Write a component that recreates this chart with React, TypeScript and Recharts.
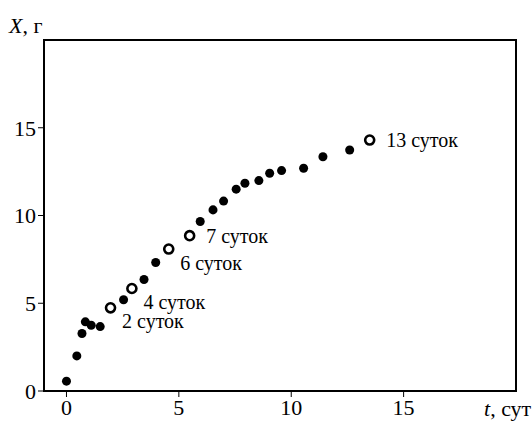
import React from "react";
import {
  ScatterChart,
  Scatter,
  XAxis,
  YAxis,
  ZAxis,
  LabelList,
} from "recharts";

// filled points: t (days), X (g)
const solidT = [0, 0.46, 0.69, 0.84, 1.1, 1.5, 2.54, 3.45, 3.97, 5.95, 6.52, 6.99, 7.55, 7.94, 8.56, 9.04, 9.57, 10.55, 11.41, 12.6];
const solidX = [0.56, 2.0, 3.28, 3.94, 3.75, 3.67, 5.2, 6.35, 7.32, 9.66, 10.32, 10.82, 11.5, 11.84, 11.99, 12.41, 12.56, 12.69, 13.35, 13.73];

// open points with labels
const openT = [1.96, 2.91, 4.55, 5.48, 13.49];
const openX = [4.74, 5.84, 8.09, 8.85, 14.3];
const openLabels = ["2 суток", "4 суток", "6 суток", "7 суток", "13 суток"];

const xTicks = [0, 5, 10, 15];
const yTicks = [0, 5, 10, 15];

const solidData = solidT.map((t, i) => ({ t, x: solidX[i] }));
const openData = openT.map((t, i) => ({ t, x: openX[i], label: openLabels[i] }));
// first three labels sit below-right of their circle, the last two to the right
const openBelow = openData.slice(0, 3);
const openRight = openData.slice(3);

const FONT = "Liberation Serif";
const tickStyle = { fill: "#000", fontSize: 22, fontFamily: FONT };

const titleStyle: React.CSSProperties = {
  position: "absolute",
  fontFamily: FONT,
  fontSize: 22,
  lineHeight: "22px",
  color: "#000",
  whiteSpace: "nowrap",
};

export default function App() {
  return (
    <div style={{ position: "absolute", left: 0, top: 0, width: 532, height: 421, background: "#fff" }}>
      <ScatterChart width={532} height={421} margin={{ top: 40, right: 16, bottom: 0, left: 0 }}>
        <XAxis
          type="number"
          dataKey="t"
          domain={[-1, 20]}
          ticks={xTicks}
          stroke="#000"
          tick={tickStyle}
          height={30}
        />
        <YAxis
          type="number"
          dataKey="x"
          domain={[0, 20]}
          ticks={yTicks}
          stroke="#000"
          tick={tickStyle}
          width={44}
        />
        <ZAxis zAxisId="solid" range={[129, 129]} />
        <ZAxis zAxisId="open" range={[79, 79]} />
        <Scatter data={solidData} zAxisId="solid" fill="#000" isAnimationActive={false} />
        <Scatter
          data={openBelow}
          zAxisId="open"
          fill="#fff"
          stroke="#000"
          strokeWidth={2.6}
          isAnimationActive={false}
        >
          <LabelList
            dataKey="label"
            position="right"
            offset={7}
            dy={13.5}
            fill="#000"
            stroke="none"
            fontSize={20}
            fontFamily={FONT}
          />
        </Scatter>
        <Scatter
          data={openRight}
          zAxisId="open"
          fill="#fff"
          stroke="#000"
          strokeWidth={2.6}
          isAnimationActive={false}
        >
          <LabelList
            dataKey="label"
            position="right"
            offset={12}
            dy={0}
            fill="#000"
            stroke="none"
            fontSize={20}
            fontFamily={FONT}
          />
        </Scatter>
      </ScatterChart>
      {/* plot frame */}
      <div
        style={{
          position: "absolute",
          left: 43,
          top: 39,
          width: 474,
          height: 353,
          boxSizing: "border-box",
          border: "2px solid #000",
          pointerEvents: "none",
        }}
      />
      <div style={{ ...titleStyle, left: 9, top: 15 }}>
        <i>X</i>, г
      </div>
      <div style={{ ...titleStyle, left: 484, top: 397.5 }}>
        <i>t</i>, сут
      </div>
    </div>
  );
}
